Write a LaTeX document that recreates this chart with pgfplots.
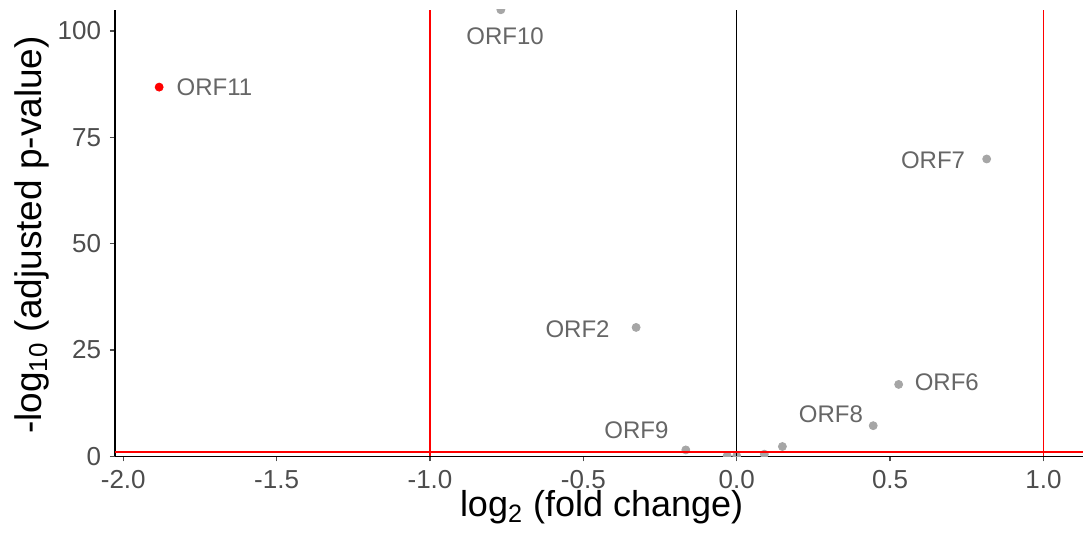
\documentclass[border=0pt]{standalone}
\usepackage{fontspec}
\setmainfont{Liberation Sans}
\usepackage{pgfplots}
\pgfplotsset{compat=1.18}
\definecolor{ptgray}{HTML}{A6A6A6}
\definecolor{labgray}{HTML}{666666}
\definecolor{tickgray}{HTML}{4D4D4D}
\definecolor{vred}{HTML}{FF0000}
\begin{document}
\begin{tikzpicture}
\begin{axis}[name=ax, scale only axis, width=484pt, height=223.3pt,
  xmin=-2.027, xmax=1.129, ymin=0, ymax=105,
  axis x line=bottom, axis y line=left,
  axis line style={-, black, line width=0.7pt},
  xtick={-2,-1.5,-1,-0.5,0,0.5,1}, ytick={0,25,50,75,100},
  /pgf/number format/assume math mode=true,
  xticklabel style={font=\fontsize{13}{15}\selectfont, text=tickgray, inner sep=0pt, text depth=0pt, yshift=-4.3pt, /pgf/number format/.cd, fixed, fixed zerofill, precision=1},
  yticklabel style={font=\fontsize{13}{15}\selectfont, text=tickgray, inner sep=1pt, xshift=-3.3pt},
  tick style={tickgray, line width=0.6pt}, tick align=outside, major tick length=2.5pt,
  clip=true, clip marker paths=true]
\addplot[only marks, mark=*, mark size=2pt, color=ptgray] coordinates {
  (-0.769,104.98) (0.815,69.9) (0.528,16.9) (0.445,7.2) (-0.328,30.3)
  (-0.166,1.5) (-0.031,0.15) (0.0,0.1) (0.09,0.5) (0.149,2.3)
};
\addplot[only marks, mark=*, mark size=2pt, color=vred] coordinates {(-1.883,86.8)};
\addplot[draw=vred, line width=0.75pt, mark=none] coordinates {(-1,0) (-1,105)};
\addplot[draw=vred, line width=0.75pt, mark=none] coordinates {(1,0) (1,105)};
\addplot[draw=black, line width=0.65pt, mark=none] coordinates {(0,0) (0,105)};
\addplot[draw=vred, line width=0.75pt, mark=none] coordinates {(-2.027,1) (1.129,1)};
\begin{scope}[every node/.style={font=\fontsize{12}{14}\selectfont, text=labgray, inner sep=0pt}]
\node at (axis cs:-1.703,86.8) {ORF11};
\node at (axis cs:-0.755,98.65) {ORF10};
\node at (axis cs:0.640,69.7) {ORF7};
\node at (axis cs:0.685,17.5) {ORF6};
\node at (axis cs:0.307,9.95) {ORF8};
\node at (axis cs:-0.519,29.9) {ORF2};
\node at (axis cs:-0.327,6.2) {ORF9};
\end{scope}
\end{axis}
\node[anchor=base, inner sep=0pt, text height=13.2pt, text depth=3.9pt, font=\fontsize{18}{21}\selectfont] at ([yshift=-30.35pt, xshift=1.3pt]ax.south) {log\textsubscript{2} (fold change)};
\node[rotate=90, anchor=center, inner sep=0pt, font=\fontsize{18.5}{21}\selectfont] at ([xshift=-41.75pt, yshift=-1pt]ax.west) {-log\textsubscript{10} (adjusted p-value)};
\pgfresetboundingbox
\path ([xshift=-57.5pt, yshift=-39.35pt]ax.south west) rectangle ([yshift=4.85pt]ax.north east);
\end{tikzpicture}
\end{document}
